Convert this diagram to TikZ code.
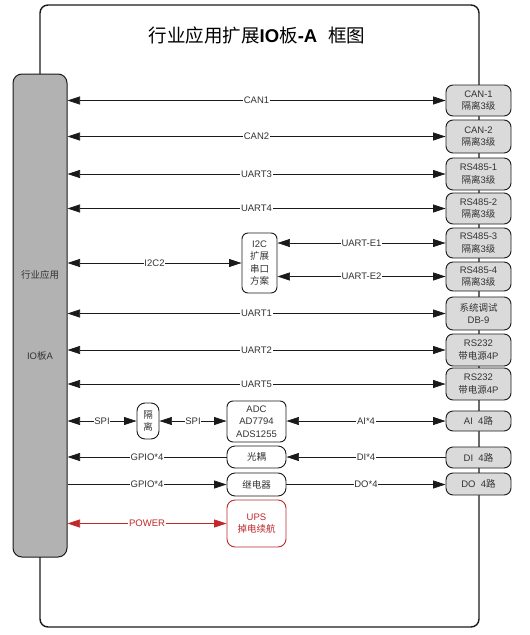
\documentclass[tikz,border=0pt]{standalone}
\usepackage{fontspec}
\setmainfont{Liberation Sans}
\newfontfamily\cjk{Noto Sans CJK SC}
\usetikzlibrary{arrows.meta}

\definecolor{boardline}{HTML}{1A1A1A}
\definecolor{portfill}{HTML}{DADADA}
\definecolor{hostfill}{HTML}{B2B2B2}
\definecolor{textgray}{HTML}{333333}
\definecolor{powerred}{HTML}{C0282A}

\begin{document}
\begin{tikzpicture}
    [
        x=1pt, y=-1pt,
        font=\fontsize{9.5}{12.5}\selectfont,
        >={Triangle[length=12.5pt,width=8pt]},
        board/.style = {
                draw=boardline,
                line width=1.4pt,
                rounded corners=8pt
            },
        host/.style = {
                draw=boardline,
                fill=hostfill,
                rectangle,
                line width=1pt,
                rounded corners=9pt,
                minimum width=54pt,
                minimum height=483pt,
                align=center,
                text=textgray
            },
        port/.style = {
                draw=boardline,
                fill=portfill,
                rectangle,
                line width=0.9pt,
                rounded corners=7pt,
                minimum width=65pt,
                minimum height=31pt,
                inner sep=1pt,
                align=center,
                text=textgray
            },
        block/.style = {
                draw=boardline,
                fill=white,
                rectangle,
                line width=0.9pt,
                rounded corners=6pt,
                minimum width=59pt,
                inner sep=1pt,
                align=center,
                text=textgray
            },
        link/.style = {draw=boardline, line width=0.7pt},
        lbl/.style = {fill=white, inner sep=0.8pt, text=textgray},
    ]

    \useasboundingbox (0,0) rectangle (530,635);

    % board outline and title
    \draw[board] (40,5) rectangle (479,627);
    \node (title) at (257,35)
        {\fontsize{18.5}{22}\selectfont\cjk 行业应用扩展{\rmfamily\bfseries IO}板{\rmfamily\bfseries -A}\hspace{11pt}框图};

    % host side
    \node [host] (host) at (40,315.5) {{\cjk 行业应用}\\[69pt]IO{\cjk 板}A};

    % connectors on the right edge
    \node [port] (can1) at (478.5,100.5) {CAN-1\\{\cjk 隔离}3{\cjk 级}};
    \node [port, minimum height=33pt] (can2) at (478.5,136.5) {CAN-2\\{\cjk 隔离}3{\cjk 级}};
    \node [port, minimum height=32pt] (rsa) at (478.5,174) {RS485-1\\{\cjk 隔离}3{\cjk 级}};
    \node [port] (rsb) at (478.5,208.5) {RS485-2\\{\cjk 隔离}3{\cjk 级}};
    \node [port, minimum height=30pt] (rsc) at (478.5,243) {RS485-3\\{\cjk 隔离}3{\cjk 级}};
    \node [port, minimum height=29pt] (rsd) at (478.5,276.5) {RS485-4\\{\cjk 隔离}3{\cjk 级}};
    \node [port, minimum height=33pt] (dbg) at (478.5,313.5) {{\cjk 系统调试}\\DB-9};
    \node [port, minimum height=32pt] (pwa) at (478.5,350) {RS232\\{\cjk 带电源}4P};
    \node [port, minimum height=32pt] (pwb) at (478.5,384) {RS232\\{\cjk 带电源}4P};
    \node [port, minimum height=20pt] (ain) at (478.5,421) {AI\ \ 4{\cjk 路}};
    \node [port, minimum height=21pt] (din) at (478.5,457.5) {DI\ \ 4{\cjk 路}};
    \node [port, minimum height=22pt] (dout) at (478.5,484) {DO\ \ 4{\cjk 路}};

    % on-board blocks
    \node [block, minimum width=35pt, minimum height=60pt] (uartexp) at (259.5,263)
        {I2C\\{\cjk 扩展}\\{\cjk 串口}\\{\cjk 方案}};
    \node [block, minimum width=22pt, minimum height=36pt, rounded corners=8pt] (iso) at (148,421)
        {\cjk 隔\\\cjk 离};
    \node [block, minimum height=41pt] (adc) at (256.5,421.5) {ADC\\AD7794\\ADS1255};
    \node [block, minimum height=22pt, rounded corners=8pt] (opto) at (256.5,457) {\cjk 光耦};
    \node [block, minimum height=23pt, rounded corners=8pt] (relay) at (256.5,484.5) {\cjk 继电器};
    \node [block, draw=powerred, text=powerred, minimum height=47pt, rounded corners=8pt] (ups) at (256.5,523.5)
        {UPS\\{\cjk 掉电续航}};

    % buses
    \draw[link, <->] (can1.west -| host.east) -- node[lbl] {CAN1} (can1.west);
    \draw[link, <->] (can2.west -| host.east) -- node[lbl] {CAN2} (can2.west);
    \draw[link, <->] (rsa.west -| host.east) -- node[lbl] {UART3} (rsa.west);
    \draw[link, <->] (rsb.west -| host.east) -- node[lbl] {UART4} (rsb.west);
    \draw[link, <->] (uartexp.west -| host.east) -- node[lbl] {I2C2} (uartexp.west);
    \draw[link, <->] (rsc.west -| uartexp.east) -- node[lbl] {UART-E1} (rsc.west);
    \draw[link, <->] (rsd.west -| uartexp.east) -- node[lbl] {UART-E2} (rsd.west);
    \draw[link, <->] (dbg.west -| host.east) -- node[lbl] {UART1} (dbg.west);
    \draw[link, <->] (pwa.west -| host.east) -- node[lbl] {UART2} (pwa.west);
    \draw[link, <->] (pwb.west -| host.east) -- node[lbl] {UART5} (pwb.west);
    \draw[link, <->] (iso.west -| host.east) -- node[lbl] {SPI} (iso.west);
    \draw[link, <->] (iso.east) -- node[lbl] {SPI} (iso.east -| adc.west);
    \draw[link, <->] (ain.west -| adc.east) -- node[lbl] {AI*4} (ain.west);
    \draw[link, <-] (opto.west -| host.east) -- node[lbl] {GPIO*4} (opto.west);
    \draw[link, <-] (opto.east) -- node[lbl] {DI*4} (opto.east -| din.west);
    \draw[link, ->] (relay.west -| host.east) -- node[lbl] {GPIO*4} (relay.west);
    \draw[link, ->] (relay.east) -- node[lbl] {DO*4} (relay.east -| dout.west);
    \draw[link, <->, draw=powerred] (ups.west -| host.east) -- node[lbl, text=powerred] {POWER} (ups.west);

\end{tikzpicture}
\end{document}
